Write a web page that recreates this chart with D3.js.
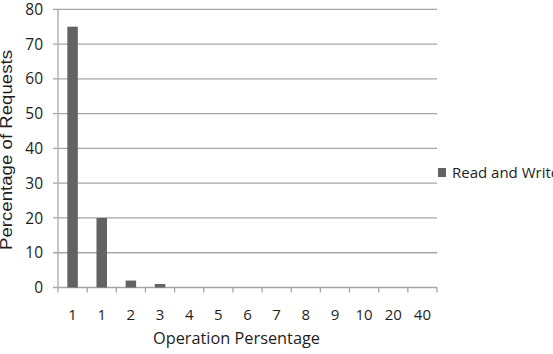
<!DOCTYPE html>
<html>
<head>
<meta charset="utf-8">
<script src="https://cdn.jsdelivr.net/npm/d3@7"></script>
<style>
  body { margin: 0; background: #fff; }
  text { font-family: "Open Sans", "Liberation Sans", sans-serif; fill: #1e1e1e; }
</style>
</head>
<body>
<div id="chart"></div>
<script>
var categories = ["1", "1", "2", "3", "4", "5", "6", "7", "8", "9", "10", "20", "40"];
var readWrite = [75, 20, 2, 1, 0, 0, 0, 0, 0, 0, 0, 0, 0];
var yTicks = [0, 10, 20, 30, 40, 50, 60, 70, 80];

function init() {
    var w = 553;
    var h = 354;
    var left = 58, right = 437, top = 9.3, bottom = 287.5;

    var svg = d3.select("#chart")
                .append("svg")
                .attr("width", w)
                .attr("height", h);

    var xScale = d3.scaleBand()
                   .domain(d3.range(categories.length))
                   .range([left, right]);

    var yScale = d3.scaleLinear()
                   .domain([0, 80])
                   .range([bottom, top]);

    // gridlines (with small tick on the left of the axis)
    svg.append("g")
        .selectAll("line")
        .data(yTicks)
        .enter()
        .append("line")
        .attr("x1", left - 5)
        .attr("x2", right)
        .attr("y1", function(d) { return yScale(d); })
        .attr("y2", function(d) { return yScale(d); })
        .attr("stroke", "#a6a6a6")
        .attr("stroke-width", 1.3);

    // y axis line
    svg.append("line")
        .attr("x1", left).attr("x2", left)
        .attr("y1", top).attr("y2", bottom)
        .attr("stroke", "#a6a6a6")
        .attr("stroke-width", 1.3);

    // y tick labels
    svg.append("g")
        .selectAll("text")
        .data(yTicks)
        .enter()
        .append("text")
        .attr("x", 43)
        .attr("y", function(d) { return yScale(d); })
        .attr("dy", "0.36em")
        .attr("text-anchor", "end")
        .style("font-size", "15.5px")
        .text(function(d) { return d; });

    // bars
    var bw = xScale.bandwidth() * 0.36;
    svg.append("g")
        .selectAll("rect")
        .data(readWrite)
        .enter()
        .append("rect")
        .attr("x", function(d, i) { return xScale(i) + (xScale.bandwidth() - bw) / 2; })
        .attr("y", function(d) { return yScale(d); })
        .attr("width", bw)
        .attr("height", function(d) { return bottom - yScale(d); })
        .attr("fill", "#626262");

    // x axis ticks
    var tickPos = d3.range(categories.length + 1).map(function(i) {
        return i < categories.length ? xScale(i) : right;
    });
    svg.append("g")
        .selectAll("line")
        .data(tickPos)
        .enter()
        .append("line")
        .attr("x1", function(d) { return d; })
        .attr("x2", function(d) { return d; })
        .attr("y1", bottom)
        .attr("y2", bottom + 5)
        .attr("stroke", "#a6a6a6")
        .attr("stroke-width", 1.3);

    // x tick labels
    svg.append("g")
        .selectAll("text")
        .data(categories)
        .enter()
        .append("text")
        .attr("x", function(d, i) { return xScale(i) + xScale.bandwidth() / 2; })
        .attr("y", 320)
        .attr("text-anchor", "middle")
        .style("font-size", "15px")
        .text(function(d) { return d; });

    // axis titles
    svg.append("text")
        .attr("x", 236.5)
        .attr("y", 344)
        .attr("text-anchor", "middle")
        .attr("textLength", 167)
        .attr("lengthAdjust", "spacingAndGlyphs")
        .style("font-size", "16.5px")
        .text("Operation Persentage");

    svg.append("text")
        .attr("transform", "translate(12,150) rotate(-90)")
        .attr("text-anchor", "middle")
        .attr("textLength", 200)
        .attr("lengthAdjust", "spacingAndGlyphs")
        .style("font-family", "'Liberation Sans', Arial, sans-serif")
        .style("font-size", "16px")
        .text("Percentage of Requests");

    // legend
    svg.append("rect")
        .attr("x", 438)
        .attr("y", 168)
        .attr("width", 8)
        .attr("height", 9)
        .attr("fill", "#626262");

    svg.append("text")
        .attr("x", 452)
        .attr("y", 178)
        .style("font-size", "15px")
        .text("Read and Write");
}
window.onload = init;
</script>
</body>
</html>
